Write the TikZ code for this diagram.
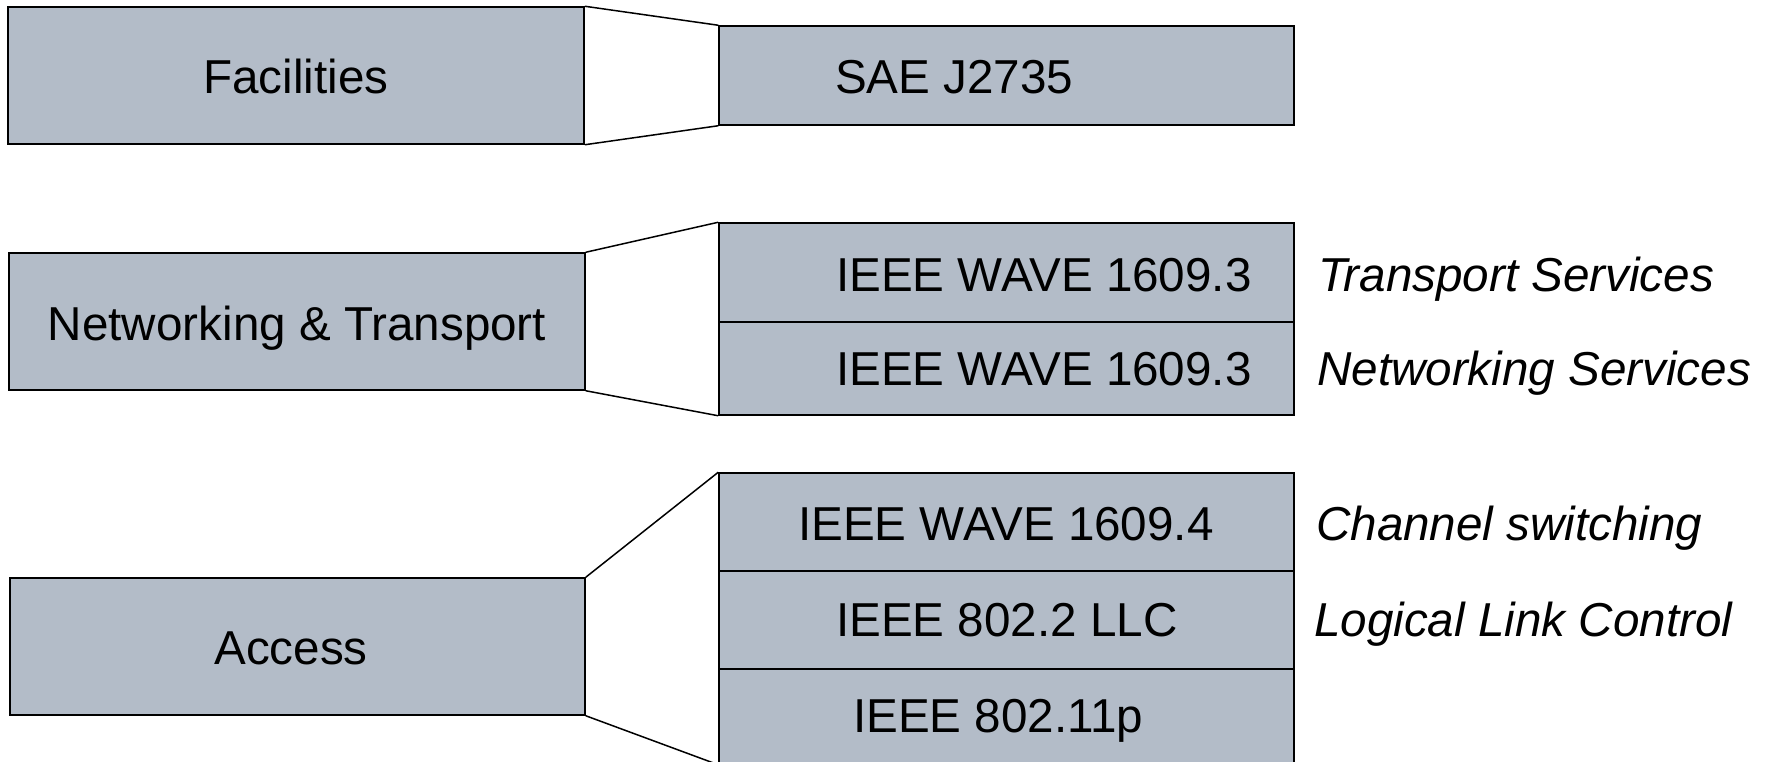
\documentclass[tikz,border=0pt]{standalone}
\usepackage{fontspec}
\setmainfont{Liberation Sans}
\definecolor{layerfill}{HTML}{B3BCC8}
\begin{document}
\begin{tikzpicture}[x=1pt,y=-1pt,
  layer/.style={draw=black, fill=layerfill, line width=1.5pt, inner sep=0pt, rectangle},
  lbl/.style={inner sep=0pt, anchor=base west, font=\fontsize{47.6}{56}\selectfont},
  side/.style={inner sep=0pt, anchor=base west, font=\fontsize{47.6}{56}\selectfont\itshape},
  link/.style={line width=1.5pt}]
\useasboundingbox (0,0) rectangle (1771,762);
\fill[white] (0,0) rectangle (1771,762);

% left layer boxes
\node[layer, minimum width=576pt, minimum height=137pt] (fac) at (296,75.5) {};
\node[layer, minimum width=576pt, minimum height=137pt] (net) at (297,321.5) {};
\node[layer, minimum width=575pt, minimum height=137pt] (acc) at (297.5,646.5) {};

% right stacks
\node[layer, minimum width=575pt, minimum height=99pt] (sae) at (1006.5,75.5) {};
\node[layer, minimum width=575pt, minimum height=99pt] (tr) at (1006.5,272.5) {};
\node[layer, minimum width=575pt, minimum height=93pt] (nw) at (1006.5,368.5) {};
\node[layer, minimum width=575pt, minimum height=98pt] (cs) at (1006.5,522) {};
\node[layer, minimum width=575pt, minimum height=98pt] (llc) at (1006.5,620) {};
\node[layer, minimum width=575pt, minimum height=95pt] (phy) at (1006.5,716.5) {};

% connectors
\draw[link] (fac.north east) -- (sae.north west);
\draw[link] (fac.south east) -- (sae.south west);
\draw[link] (net.north east) -- (tr.north west);
\draw[link] (net.south east) -- (nw.south west);
\draw[link] (acc.north east) -- (cs.north west);
\draw[link] (acc.south east) -- (phy.south west);

% texts
\node[lbl, anchor=base] (factxt) at (296,94) {Facilities};
\node[lbl, anchor=base] (nettxt) at (297,340) {Networking \& Transport};
\node[lbl, anchor=base] (acctxt) at (291,664) {Access};

\node[lbl] (saetxt) at (835,94) {SAE J2735};
\node[lbl] (trtxt) at (836,291) {IEEE WAVE 1609.3};
\node[lbl] (nwtxt) at (836,385) {IEEE WAVE 1609.3};
\node[lbl] (cstxt) at (798,540) {IEEE WAVE 1609.4};
\node[lbl] (llctxt) at (836,636) {IEEE 802.2 LLC};
\node[lbl] (phytxt) at (853,732) {IEEE 802.11p};

\node[side] (trside) at (1318,291) {Transport Services};
\node[side] (nwside) at (1317,385) {Networking Services};
\node[side] (csside) at (1316,540) {Channel switching};
\node[side] (llcside) at (1314,636) {Logical Link Control};
\end{tikzpicture}
\end{document}
